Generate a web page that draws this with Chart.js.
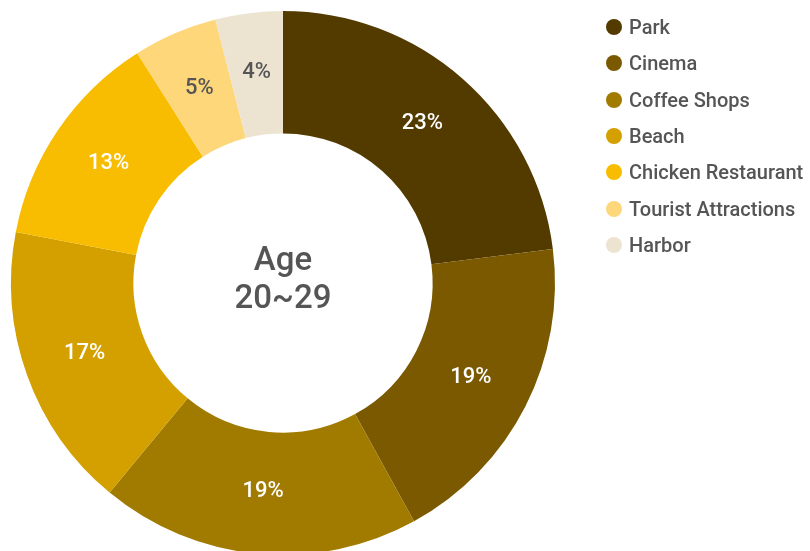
<!DOCTYPE html>
<html>
<head>
<meta charset="utf-8">
<script src="https://cdn.jsdelivr.net/npm/chart.js@4"></script>
<style>
    body { margin: 0; overflow: hidden; background: #fff; font-family: Roboto, sans-serif; }
    #wrap { position: relative; width: 810px; height: 566px; }
    #legend { position: absolute; left: 606px; top: 9px; margin: 0; padding: 0; list-style: none; }
    #legend li { height: 36.3px; display: flex; align-items: center; font-size: 20px; font-weight: 500; color: #555; white-space: nowrap; }
    #legend span { display: inline-block; width: 16px; height: 16px; border-radius: 50%; margin-right: 7px; }
</style>
</head>
<body>
<div id="wrap">
    <canvas id="placeChart" width="810" height="566"></canvas>
    <ul id="legend"></ul>
</div>
<script>
// Dữ liệu
const places = ['Park', 'Cinema', 'Coffee Shops', 'Beach', 'Chicken Restaurant', 'Tourist Attractions', 'Harbor'];
const shares = [23, 19, 19, 17, 13, 5, 4];
const sliceColors = ['#533b00', '#7a5900', '#a17b00', '#d3a000', '#f8bd00', '#fed77a', '#ede3d1'];
const labelColors = ['#fff', '#fff', '#fff', '#fff', '#fff', '#555', '#555'];
const centerText = ['Age', '20~29'];

// Nhãn phần trăm trên từng lát
const sliceLabels = {
    id: 'sliceLabels',
    afterDatasetsDraw(chart) {
        const ctx = chart.ctx;
        const meta = chart.getDatasetMeta(0);
        ctx.save();
        ctx.font = '500 22px Roboto';
        ctx.textAlign = 'center';
        ctx.textBaseline = 'middle';
        meta.data.forEach((arc, i) => {
            const p = arc.getCenterPoint();
            ctx.fillStyle = labelColors[i];
            ctx.fillText(shares[i] + '%', p.x, p.y - 1);
        });
        ctx.restore();
    }
};

// Chữ ở giữa
const centerLabel = {
    id: 'centerLabel',
    afterDraw(chart) {
        const ctx = chart.ctx;
        const arc = chart.getDatasetMeta(0).data[0];
        ctx.save();
        ctx.font = '500 33px Roboto';
        ctx.fillStyle = '#555';
        ctx.textAlign = 'center';
        ctx.textBaseline = 'middle';
        ctx.fillText(centerText[0], arc.x, arc.y - 21);
        ctx.fillText(centerText[1], arc.x, arc.y + 17);
        ctx.restore();
    }
};

const chart = new Chart(document.getElementById('placeChart').getContext('2d'), {
    type: 'doughnut',
    data: {
        labels: places,
        datasets: [{
            data: shares,
            backgroundColor: sliceColors,
            borderWidth: 0
        }]
    },
    options: {
        responsive: false,
        animation: false,
        cutout: '55%',
        layout: { padding: { left: 11, top: 11, bottom: 11, right: 255 } },
        plugins: {
            legend: { display: false },
            tooltip: { enabled: false }
        }
    },
    plugins: [sliceLabels, centerLabel]
});

// Chú thích
const legendEl = document.getElementById('legend');
places.forEach((name, i) => {
    const li = document.createElement('li');
    li.innerHTML = '<span style="background:' + sliceColors[i] + '"></span>' + name;
    legendEl.appendChild(li);
});
</script>
</body>
</html>
